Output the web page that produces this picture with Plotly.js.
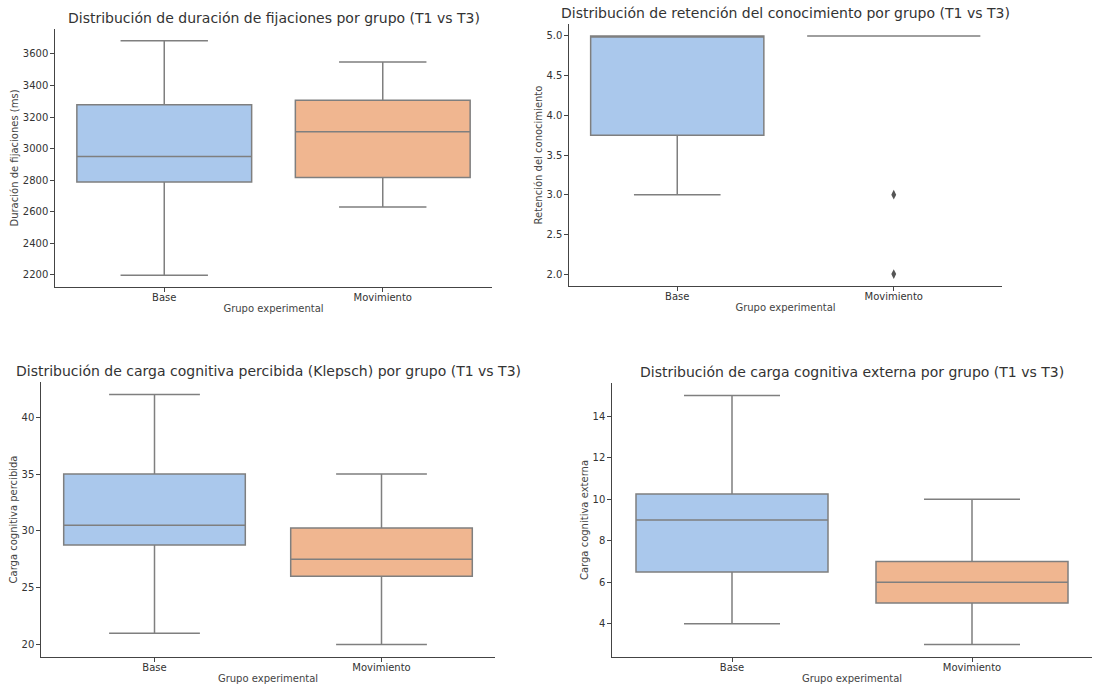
<!DOCTYPE html>
<html>
<head>
<meta charset="utf-8">
<script src="https://cdn.plot.ly/plotly-3.0.1.min.js"></script>
<style>html,body{margin:0;padding:0;background:#fff;}#chart{width:1099px;height:688px;}</style>
</head>
<body>
<div id="chart"></div>
<script>
// ---- Data ----
const groups = ["Base", "Movimiento"];

const titles = [
  "Distribución de duración de fijaciones por grupo (T1 vs T3)",
  "Distribución de retención del conocimiento por grupo (T1 vs T3)",
  "Distribución de carga cognitiva percibida (Klepsch) por grupo (T1 vs T3)",
  "Distribución de carga cognitiva externa por grupo (T1 vs T3)"
];
const yTitles = [
  "Duración de fijaciones (ms)",
  "Retención del conocimiento",
  "Carga cognitiva percibida",
  "Carga cognitiva externa"
];
const xTitle = "Grupo experimental";

// Fijaciones (ms)
const fixLower  = [2196, 2630];
const fixQ1     = [2788, 2816];
const fixMedian = [2949, 3107];
const fixQ3     = [3277, 3306];
const fixUpper  = [3684, 3549];

// Retención
const retLower  = [3.0, 5.0];
const retQ1     = [3.75, 5.0];
const retMedian = [5.0, 5.0];
const retQ3     = [5.0, 5.0];
const retUpper  = [5.0, 5.0];
const retOutlierGroup = ["Movimiento", "Movimiento"];
const retOutlierValue = [3.0, 2.0];

// Carga percibida (Klepsch)
const klLower  = [21, 20];
const klQ1     = [28.75, 26];
const klMedian = [30.5, 27.5];
const klQ3     = [35, 30.25];
const klUpper  = [42, 35];

// Carga externa
const extLower  = [4, 3];
const extQ1     = [6.5, 5];
const extMedian = [9, 6];
const extQ3     = [10.25, 7];
const extUpper  = [15, 10];

// ---- Styles ----
const fillColors = ["#aac8ec", "#f0b690"];
const lineGray = "#7f7f7f";
const font = "DejaVu Sans, sans-serif";

function boxTraces(lower, q1, med, q3, upper, ax) {
  return groups.map((g, i) => ({
    type: "box",
    x: [g],
    lowerfence: [lower[i]],
    q1: [q1[i]],
    median: [med[i]],
    q3: [q3[i]],
    upperfence: [upper[i]],
    fillcolor: fillColors[i],
    line: {color: lineGray, width: 1.5},
    whiskerwidth: 0.5,
    width: 0.8,
    boxpoints: false,
    hoverinfo: "skip",
    showlegend: false,
    xaxis: "x" + (ax === 1 ? "" : ax),
    yaxis: "y" + (ax === 1 ? "" : ax)
  }));
}

const traces = [
  ...boxTraces(fixLower, fixQ1, fixMedian, fixQ3, fixUpper, 1),
  ...boxTraces(retLower, retQ1, retMedian, retQ3, retUpper, 2),
  {
    type: "scatter", mode: "markers",
    x: retOutlierGroup, y: retOutlierValue,
    marker: {symbol: "diamond-tall", size: 7, color: "#555555"},
    showlegend: false, hoverinfo: "skip",
    xaxis: "x2", yaxis: "y2"
  },
  ...boxTraces(klLower, klQ1, klMedian, klQ3, klUpper, 3),
  ...boxTraces(extLower, extQ1, extMedian, extQ3, extUpper, 4)
];

const W = 1099, H = 688;
// plot areas in px: [x0, x1, y0(top), y1(bottom)]
const areas = [
  [55, 492, 29, 287],
  [569, 1002, 24, 286],
  [41, 495, 382, 657],
  [612, 1092, 383, 657]
];
const yRanges = [[2122, 3758], [1.85, 5.15], [18.9, 43.1], [2.4, 15.6]];
const yDticks = [200, 0.5, 5, 2];
const yFormats = ["d", ".1f", "d", "d"];
const titleY = [18, 13, 371, 372];
const ytStandoff = [2, 1, 2, 2];

const layout = {
  width: W, height: H,
  margin: {l: 0, r: 0, t: 0, b: 0},
  paper_bgcolor: "#ffffff",
  plot_bgcolor: "#ffffff",
  font: {family: font, size: 10, color: "#333333"},
  showlegend: false,
  annotations: []
};

areas.forEach((a, k) => {
  const sfx = k === 0 ? "" : String(k + 1);
  layout["xaxis" + sfx] = {
    domain: [a[0] / W, a[1] / W],
    anchor: "y" + sfx,
    type: "category",
    range: [-0.5, 1.5],
    showline: true, linecolor: "#444444", linewidth: 1.2,
    ticks: "outside", ticklen: 3.5, tickcolor: "#444444", tickwidth: 1,
    ticklabelstandoff: -3,
    showgrid: false, zeroline: false,
    tickfont: {family: font, size: 10, color: "#333333"},
    title: {text: xTitle, font: {family: font, size: 10, color: "#444444"}, standoff: 3},
    automargin: false
  };
  layout["yaxis" + sfx] = {
    domain: [1 - a[3] / H, 1 - a[2] / H],
    anchor: "x" + sfx,
    range: yRanges[k],
    dtick: yDticks[k],
    tickformat: yFormats[k],
    showline: true, linecolor: "#444444", linewidth: 1.2,
    ticks: "outside", ticklen: 3.5, tickcolor: "#444444", tickwidth: 1,
    showgrid: false, zeroline: false,
    tickfont: {family: font, size: 10, color: "#333333"},
    title: {text: yTitles[k], font: {family: font, size: 10, color: "#444444"}, standoff: ytStandoff[k]},
    automargin: false
  };
  layout.annotations.push({
    text: titles[k],
    xref: "paper", yref: "paper",
    x: (a[0] + a[1]) / 2 / W,
    y: 1 - titleY[k] / H,
    xanchor: "center", yanchor: "middle",
    showarrow: false,
    font: {family: font, size: 14, color: "#333333"}
  });
});

Plotly.newPlot("chart", traces, layout, {staticPlot: true, displayModeBar: false});
</script>
</body>
</html>
